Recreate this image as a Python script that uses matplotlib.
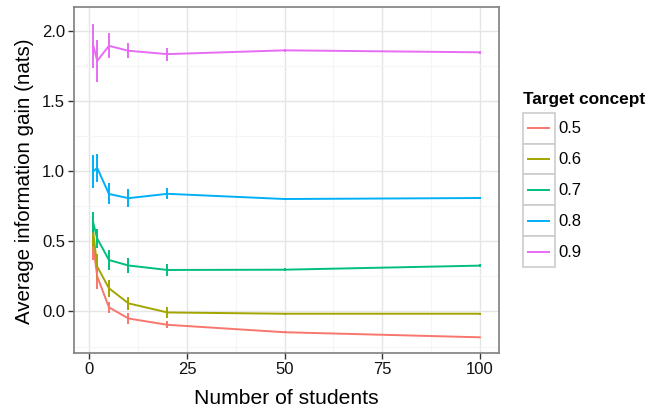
import matplotlib
matplotlib.use("Agg")
import matplotlib.pyplot as plt
from matplotlib.legend_handler import HandlerBase
from matplotlib.patches import Rectangle
from matplotlib.lines import Line2D
from matplotlib.ticker import MultipleLocator

plt.rcParams['font.family'] = ['Liberation Sans', 'DejaVu Sans']

students = [1, 2, 5, 10, 20, 50, 100]
concepts = ["0.5", "0.6", "0.7", "0.8", "0.9"]
colors = ["#F8766D", "#A3A500", "#00BF7D", "#00B0F6", "#E76BF3"]

gain_05 = [0.46, 0.25, 0.03, -0.05, -0.095, -0.148, -0.184]
gain_06 = [0.56, 0.32, 0.166, 0.058, -0.007, -0.016, -0.016]
gain_07 = [0.63, 0.52, 0.367, 0.328, 0.296, 0.298, 0.327]
gain_08 = [1.00, 1.023, 0.838, 0.808, 0.839, 0.802, 0.809]
gain_09 = [1.895, 1.787, 1.894, 1.859, 1.835, 1.862, 1.848]

err_05 = [0.09, 0.09, 0.041, 0.036, 0.024, 0.008, 0.005]
err_06 = [0.10, 0.09, 0.062, 0.047, 0.041, 0.008, 0.008]
err_07 = [0.08, 0.07, 0.071, 0.056, 0.043, 0.012, 0.012]
err_08 = [0.119, 0.098, 0.075, 0.063, 0.039, 0.01, 0.01]
err_09 = [0.158, 0.149, 0.089, 0.053, 0.046, 0.01, 0.01]

gains = [gain_05, gain_06, gain_07, gain_08, gain_09]
errs = [err_05, err_06, err_07, err_08, err_09]

fig = plt.figure(figsize=(6.61, 4.12), dpi=100)
ax = fig.add_axes([74/661, 1-353/412, (499-74)/661, (353-7)/412])

handles = []
for g, e, c, lab in zip(gains, errs, colors, concepts):
    ax.errorbar(students, g, yerr=e, color=c, lw=1.4, elinewidth=1.4, capsize=0, zorder=3)
    handles.append(Line2D([], [], color=c, lw=1.4, label=lab))

ax.set_xlim(1 - 4.95, 100 + 4.95)
ax.set_ylim(-0.296, 2.171)
ax.xaxis.set_minor_locator(MultipleLocator(12.5))
ax.yaxis.set_minor_locator(MultipleLocator(0.25))
ax.set_xticks([0, 25, 50, 75, 100])
ax.set_xticklabels(["0", "25", "50", "75", "100"])
ax.set_yticks([0.0, 0.5, 1.0, 1.5, 2.0])
ax.set_yticklabels(["0.0", "0.5", "1.0", "1.5", "2.0"])
ax.grid(which='major', color='#E5E5E5', lw=1.0, zorder=0)
ax.grid(which='minor', color='#F5F5F5', lw=0.8, zorder=0)
ax.set_axisbelow(True)
for s in ax.spines.values():
    s.set_color('#7F7F7F')
    s.set_linewidth(1.2)
ax.tick_params(which='major', direction='out', length=4, width=1.0, color='#333333',
               labelsize=12, labelcolor='#111111', pad=2.5)
ax.tick_params(which='minor', length=0)
ax.set_xlabel("Number of students", fontsize=15.2)
ax.set_ylabel("Average information gain (nats)", fontsize=14.8)
ax.xaxis.set_label_coords((286 - 74) / (499 - 74), -(399 - 353) / (353 - 7), transform=ax.transAxes)
ax.yaxis.set_label_coords(-(74 - 25) / (499 - 74), 0.495)
ax.xaxis.label.set_va('center')
ax.yaxis.label.set_va('center')


class BoxHandler(HandlerBase):
    def create_artists(self, legend, orig_handle, xdescent, ydescent, width, height, fontsize, trans):
        rect = Rectangle((-xdescent, -ydescent), width, height, facecolor='white',
                         edgecolor='#CCCCCC', lw=1.2, transform=trans)
        y = -ydescent + height / 2
        line = Line2D([-xdescent + 0.17 * width, -xdescent + 0.83 * width], [y, y],
                      color=orig_handle.get_color(), lw=1.4, transform=trans)
        return [rect, line]


leg = fig.legend(handles=handles, labels=concepts, title="Target concept",
                 loc='upper left', bbox_to_anchor=(523/661, 1-92/412),
                 frameon=False, fontsize=12, title_fontproperties={'weight': 'bold', 'size': 12.4},
                 handler_map={Line2D: BoxHandler()}, handlelength=1.9, handleheight=2.48,
                 labelspacing=0.0, handletextpad=0.25, borderpad=0, borderaxespad=0,
                 alignment='left')
leg._legend_box.sep = 4

fig.savefig("out.png", dpi=100)
